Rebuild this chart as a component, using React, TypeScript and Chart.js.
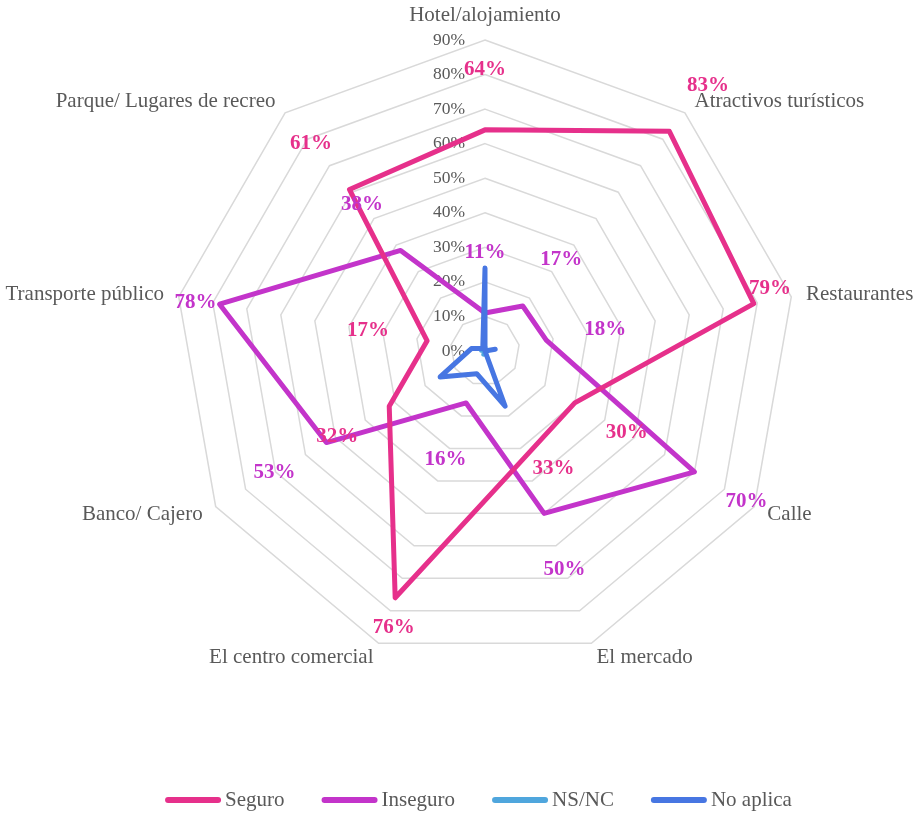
import React, { useEffect, useRef } from 'react';
import { Chart, registerables } from 'chart.js';

Chart.register(...registerables);

// ---- data ----
const categories = [
  'Hotel/alojamiento',
  'Atractivos turísticos',
  'Restaurantes',
  'Calle',
  'El mercado',
  'El centro comercial',
  'Banco/ Cajero',
  'Transporte público',
  'Parque/ Lugares de recreo',
];
const seriesNames = ['Seguro', 'Inseguro', 'NS/NC', 'No aplica'];
const seguro = [64, 83, 79, 30, 33, 76, 32, 17, 61];
const inseguro = [11, 17, 18, 70, 50, 16, 53, 78, 38];
const nsnc = [1, 0, 0, 0, 0, 1, 0, 1, 0];
const noAplica = [24, 0, 3, 0, 17, 7, 15, 4, 1];
const tickValues = [0, 10, 20, 30, 40, 50, 60, 70, 80, 90];

// ---- styles ----
const SERIF = '"Liberation Serif", "Times New Roman", serif';
const TEXT = '#595959';
const COLORS = ['#E6308B', '#C334CA', '#4FA6DD', '#4776E2'];
const LABELLED = [0, 1];
const LABEL_NUDGE: Record<string, [number, number]> = {
  '0-2': [-43, -5],
  '0-4': [9, -46],
  '0-5': [19, -27],
  '1-7': [35, 9],
};

const radarDecor = {
  id: 'radarDecor',
  beforeDatasetsDraw(chart: any) {
    const scale = chart.scales.r;
    const ctx = chart.ctx;
    ctx.save();
    ctx.font = `17.5px ${SERIF}`;
    ctx.fillStyle = TEXT;
    ctx.textAlign = 'right';
    ctx.textBaseline = 'middle';
    tickValues.forEach((v) => {
      const d = scale.getDistanceFromCenterForValue(v);
      ctx.fillText(`${v}%`, scale.xCenter - 20, scale.yCenter - d);
    });
    ctx.restore();
  },
  afterDatasetsDraw(chart: any) {
    const scale = chart.scales.r;
    const ctx = chart.ctx;
    ctx.save();
    // category labels
    ctx.font = `21px ${SERIF}`;
    ctx.fillStyle = TEXT;
    ctx.textBaseline = 'middle';
    const n = categories.length;
    categories.forEach((label, i) => {
      const p = scale.getPointPosition(i, scale.drawingArea + 15);
      const deg = Math.round((i * 360) / n);
      let y = p.y;
      if (deg === 0) {
        ctx.textAlign = 'center';
        y -= 10;
      } else if (deg === 180) {
        ctx.textAlign = 'center';
        y += 10;
      } else if (deg < 180) {
        ctx.textAlign = 'left';
      } else {
        ctx.textAlign = 'right';
      }
      ctx.fillText(label, p.x, y);
    });
    // data labels
    ctx.font = `bold 21px ${SERIF}`;
    ctx.textAlign = 'center';
    LABELLED.forEach((di) => {
      const ds = chart.data.datasets[di];
      ds.data.forEach((v: number, i: number) => {
        const d = scale.getDistanceFromCenterForValue(v) + 60;
        const p = scale.getPointPosition(i, d);
        const nudge = LABEL_NUDGE[`${di}-${i}`] || [0, 0];
        ctx.fillStyle = ds.borderColor;
        ctx.fillText(`${v}%`, p.x + nudge[0], p.y + nudge[1]);
      });
    });
    ctx.restore();
  },
  afterDraw(chart: any) {
    const ctx = chart.ctx;
    ctx.save();
    ctx.font = `21px ${SERIF}`;
    const lineW = 56;
    const gapText = 4;
    const gapItem = 37;
    const items = chart.data.datasets.map((ds: any) => ({
      text: ds.label,
      color: ds.borderColor,
      w: ctx.measureText(ds.label).width,
    }));
    const total =
      items.reduce((s: number, it: any) => s + lineW + gapText + it.w, 0) +
      gapItem * (items.length - 1);
    let x = 478.5 - total / 2;
    const y = 800;
    ctx.textBaseline = 'middle';
    ctx.textAlign = 'left';
    items.forEach((it: any) => {
      ctx.beginPath();
      ctx.strokeStyle = it.color;
      ctx.lineWidth = 6;
      ctx.lineCap = 'round';
      ctx.moveTo(x + 3, y);
      ctx.lineTo(x + lineW - 3, y);
      ctx.stroke();
      ctx.fillStyle = TEXT;
      ctx.fillText(it.text, x + lineW + gapText, y);
      x += lineW + gapText + it.w + gapItem;
    });
    ctx.restore();
  },
};

export default function App() {
  const canvasRef = useRef<HTMLCanvasElement | null>(null);

  useEffect(() => {
    document.body.style.margin = '0';
    const canvas = canvasRef.current;
    if (!canvas) return;
    const seriesData = [seguro, inseguro, nsnc, noAplica];
    const orders = [0, 3, 2, 1];
    const chart = new Chart(canvas, {
      type: 'radar',
      data: {
        labels: categories,
        datasets: seriesNames.map((name, k) => ({
          label: name,
          data: seriesData[k],
          borderColor: COLORS[k],
          backgroundColor: COLORS[k],
          borderWidth: 5,
          fill: false,
          pointRadius: 0,
          pointHoverRadius: 0,
          borderJoinStyle: 'round',
          borderCapStyle: 'round',
          order: orders[k],
        })),
      },
      options: {
        responsive: false,
        animation: false,
        layout: { padding: { left: 174, right: 119, top: 40, bottom: 153 } },
        plugins: {
          legend: { display: false },
          tooltip: { enabled: false },
        },
        elements: { line: { tension: 0 } },
        scales: {
          r: {
            min: 0,
            max: 90,
            ticks: { display: false, stepSize: 10 },
            grid: { color: '#D9D9D9', lineWidth: 1.5 },
            angleLines: { display: false },
            pointLabels: { display: false },
          },
        },
      } as any,
      plugins: [radarDecor],
    } as any);
    return () => chart.destroy();
  }, []);

  return (
    <div style={{ width: 915, height: 815, background: '#fff' }}>
      <canvas ref={canvasRef} width={915} height={815} style={{ display: 'block' }} />
    </div>
  );
}
